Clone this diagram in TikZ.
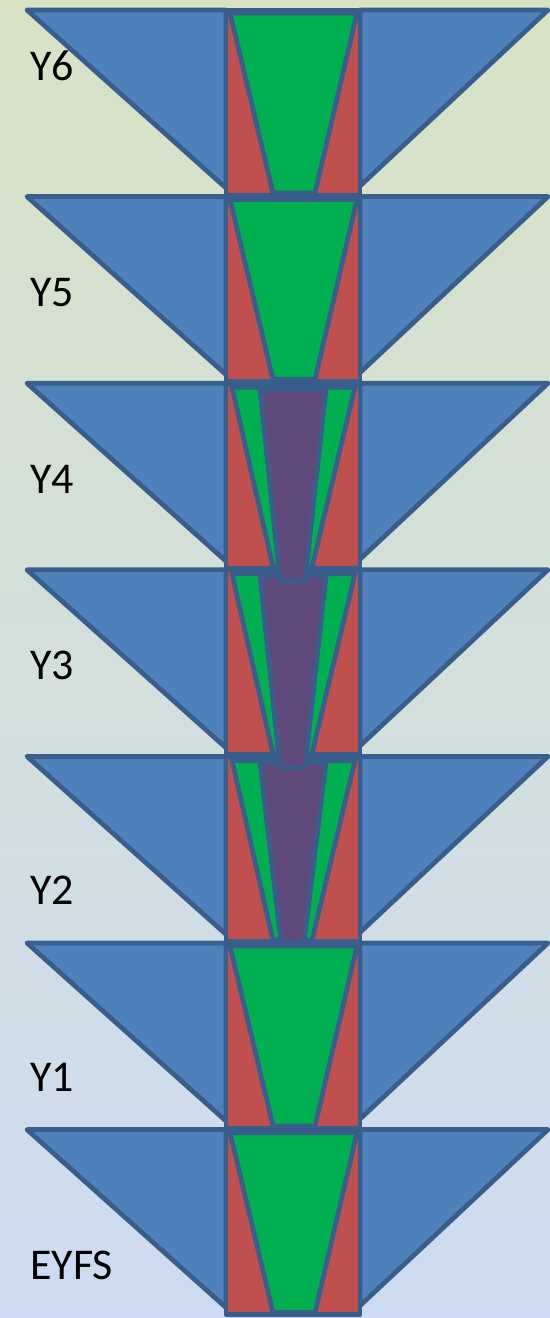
\documentclass[tikz,border=0pt]{standalone}
\usepackage{fontspec}
\setmainfont{Carlito}
\definecolor{edgeblue}{RGB}{58,94,140}
\definecolor{wingblue}{RGB}{79,129,189}
\definecolor{colred}{RGB}{192,80,77}
\definecolor{wedgegreen}{RGB}{0,176,80}
\definecolor{corepurple}{RGB}{96,74,123}
\definecolor{bgtop}{RGB}{215,227,196}
\definecolor{bgbottom}{RGB}{205,219,242}
\begin{document}
\begin{tikzpicture}[
    x=0.02cm, y=-0.02cm,
    part/.style={draw=edgeblue, line width=0.095cm, line join=round},
    wing/.style={part, fill=wingblue},
    column/.style={part, fill=colred},
    wedge/.style={part, fill=wedgegreen},
    core/.style={part, fill=corepurple},
    year/.style={anchor=west, font=\fontsize{25}{30}\selectfont}
]
% Background
\useasboundingbox (0,0) rectangle (550,1318);
\shade[top color=bgtop, bottom color=bgbottom] (0,0) rectangle (550,1318);

% EYFS
\begin{scope}[shift={(0,1129.6)}]
\draw[wing] (27,0) -- (226,0) -- (226,178) -- cycle;
\draw[wing] (360,0) -- (548,0) -- (360,176) -- cycle;
\draw[column] (226,0) rectangle (360,185);
\draw[wedge] (230,3) -- (357,3) -- (315,183) -- (273,183) -- cycle;
\end{scope}

% Y1
\begin{scope}[shift={(0,943)}]
\draw[wing] (27,0) -- (226,0) -- (226,178) -- cycle;
\draw[wing] (360,0) -- (548,0) -- (360,176) -- cycle;
\draw[column] (226,0) rectangle (360,185);
\draw[wedge] (230,3) -- (357,3) -- (315,183) -- (273,183) -- cycle;
\end{scope}

% Y2
\begin{scope}[shift={(0,756.4)}]
\draw[wing] (27,0) -- (226,0) -- (226,178) -- cycle;
\draw[wing] (360,0) -- (548,0) -- (360,176) -- cycle;
\draw[column] (226,0) rectangle (360,185);
\draw[wedge] (232,4) -- (355,4) -- (312,184) -- (273,184) -- cycle;
\draw[core] (260,6) -- (326,6) -- (304,186) -- (281,186) -- cycle;
\end{scope}

% Y3
\begin{scope}[shift={(0,569.8)}]
\draw[wing] (27,0) -- (226,0) -- (226,178) -- cycle;
\draw[wing] (360,0) -- (548,0) -- (360,176) -- cycle;
\draw[column] (226,0) rectangle (360,185);
\draw[wedge] (232,4) -- (355,4) -- (312,184) -- (273,184) -- cycle;
\draw[core] (260,6) -- (326,6) -- (305,198) -- (280,198) -- cycle;
\end{scope}

% Y4
\begin{scope}[shift={(0,383.2)}]
\draw[wing] (27,0) -- (226,0) -- (226,178) -- cycle;
\draw[wing] (360,0) -- (548,0) -- (360,176) -- cycle;
\draw[column] (226,0) rectangle (360,185);
\draw[wedge] (232,4) -- (355,4) -- (312,184) -- (273,184) -- cycle;
\draw[core] (260,6) -- (326,6) -- (305,198) -- (280,198) -- cycle;
\end{scope}

% Y5
\begin{scope}[shift={(0,196.6)}]
\draw[wing] (27,0) -- (226,0) -- (226,178) -- cycle;
\draw[wing] (360,0) -- (548,0) -- (360,176) -- cycle;
\draw[column] (226,0) rectangle (360,185);
\draw[wedge] (230,3) -- (357,3) -- (315,183) -- (273,183) -- cycle;
\end{scope}

% Y6
\begin{scope}[shift={(0,10)}]
\draw[wing] (27,0) -- (226,0) -- (226,178) -- cycle;
\draw[wing] (360,0) -- (548,0) -- (360,176) -- cycle;
\draw[column] (226,0) rectangle (360,185);
\draw[wedge] (230,3) -- (357,3) -- (315,183) -- (273,183) -- cycle;
\end{scope}

% Year labels
\node[year] (y6) at (24,66) {Y6};
\node[year] (y5) at (24,293) {Y5};
\node[year] (y4) at (24,479) {Y4};
\node[year] (y3) at (24,665) {Y3};
\node[year] (y2) at (24,890) {Y2};
\node[year] (y1) at (24,1077) {Y1};
\node[year] (eyfs) at (24,1265) {EYFS};
\end{tikzpicture}
\end{document}
